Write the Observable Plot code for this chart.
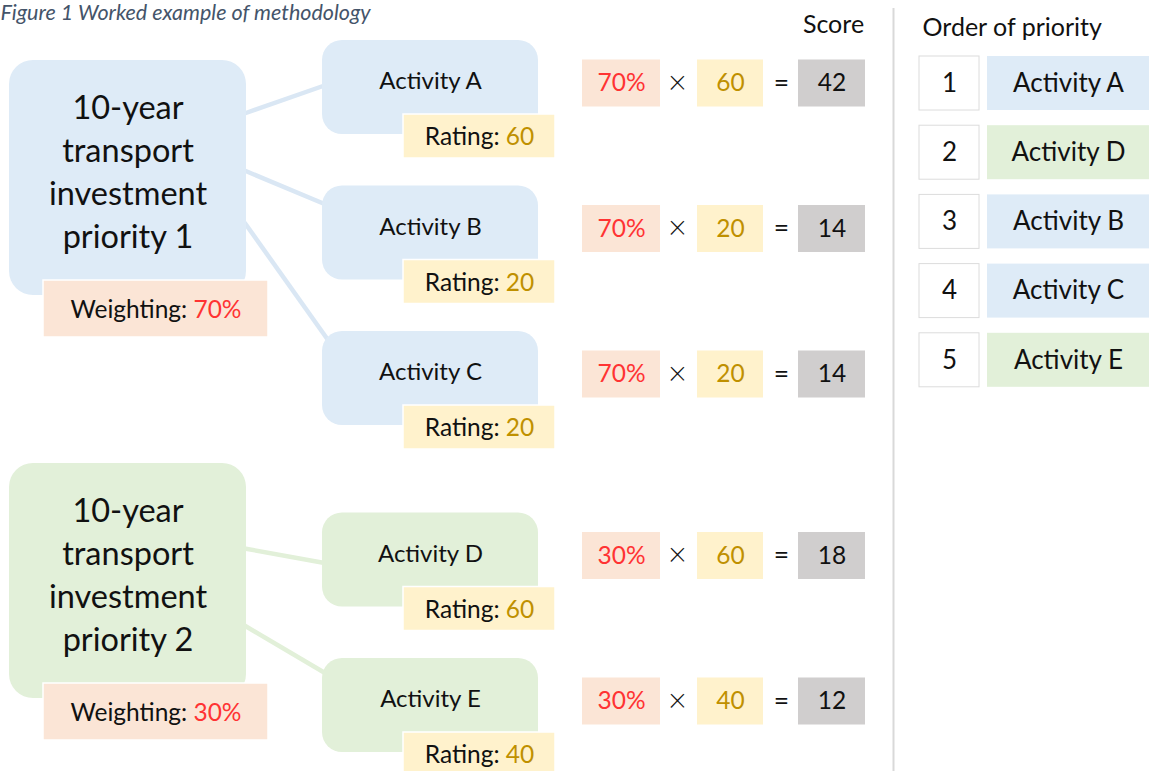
<!DOCTYPE html>
<html><head><meta charset="utf-8">
<script src="https://cdn.jsdelivr.net/npm/d3@7"></script>
<script src="https://cdn.jsdelivr.net/npm/@observablehq/plot@0.6"></script>
<style>body{margin:0;background:#fff} svg{display:block}</style>
</head><body><div id="chart"></div>
<script>
// ---------- data ----------
const title = "Figure 1 Worked example of methodology";
const priorityNames = ["10-year\ntransport\ninvestment\npriority 1", "10-year\ntransport\ninvestment\npriority 2"];
const priorityWeights = [70, 30];
const activityNames = ["Activity A", "Activity B", "Activity C", "Activity D", "Activity E"];
const activityPriority = [0, 0, 0, 1, 1];
const activityRatings = [60, 20, 20, 60, 40];
const activityScores = [42, 14, 14, 18, 12];
const scoreHeader = "Score";
const orderHeader = "Order of priority";
const weightLabel = "Weighting:";
const ratingLabel = "Rating:";

// ---------- styles ----------
const FONT = "Lato";
const C = {blue:"#DEEBF7", green:"#E2F0D9", peach:"#FBE5D6", yellow:"#FFF2CC", gray:"#D0CECE",
  red:"#FF3333", gold:"#BF9000", title:"#44546A", ink:"#111111",
  lineBlue:"#DAE7F4", lineGreen:"#E2F0D9", divider:"#D9D9D9", border:"#DCDCDC"};
const groupFill = [C.blue, C.green];
const groupLine = [C.lineBlue, C.lineGreen];
const FS = {title:21.5, big:32.5, act:24, rating:24.5, weight:24.5, formula:24.5, header:25, order:26};

// ---------- layout ----------
const W = 1149, H = 771;
const L = {
  pX1: 9, pX2: 246, pTop: [60, 463], pH: 235,
  wX1: 43, wX2: 268, wDy: 220, wH: 57,
  aX1: 322, aX2: 538, aH: 94,
  rX1: 403, rX2: 555, rDy: 74, rH: 44,
  fW: [582, 660], fR: [697, 763], fS: [798, 865], fTimes: 677, fEq: 781, fDy: 43, fH: 47,
  conStart: [53, 110, 162, 85, 162], conEnd: [45, 18, 12, 50, 16], conEndDx: [0, 0, 6, 0, 3],
  divX: 893, scoreX: 833, headerY: 24, orderX: 922,
  nX: [919, 979], oX: [987, 1149], oTop: 56, oStep: 69.2, oH: 54
};
const aTop = i => 40 + i * 145.5 + activityPriority[i] * 36;

// text measurement for mixed-colour labels
const ctx = document.createElement("canvas").getContext("2d");
const tw = (s, size) => { ctx.font = `${size}px ${FONT}`; return ctx.measureText(s).width; };

// ---------- derived tables ----------
const priorities = priorityNames.map((name, g) => ({name, g, weight: priorityWeights[g]}));
const activities = activityNames.map((name, i) => ({
  name, i, g: activityPriority[i], rating: activityRatings[i], score: activityScores[i],
  weight: priorityWeights[activityPriority[i]], top: aTop(i)
}));
const order = d3.sort(activities, (a, b) => d3.descending(a.score, b.score)).map((d, k) => ({...d, rank: k + 1}));

// mixed label pieces
function pieces(label, value, cx, y, size, color) {
  const sp = tw(" ", size);
  const total = tw(label, size) + sp + tw(value, size);
  const x0 = cx - total / 2;
  return [
    {text: label, x: x0, y, fill: C.ink, size},
    {text: value, x: x0 + tw(label, size) + sp, y, fill: color, size}
  ];
}
const mixed = [
  ...priorities.flatMap(p => pieces(weightLabel, `${p.weight}%`, (L.wX1 + L.wX2) / 2, L.pTop[p.g] + L.wDy + L.wH / 2 + 1, FS.weight, C.red)),
  ...activities.flatMap(a => pieces(ratingLabel, `${a.rating}`, (L.rX1 + L.rX2) / 2, a.top + L.rDy + L.rH / 2 + 1, FS.rating, C.gold))
];

const fy = a => a.top + L.fDy;

const plot = Plot.plot({
  width: W, height: H, margin: 0,
  x: {domain: [0, W], range: [0, W], axis: null},
  y: {domain: [0, H], range: [0, H], axis: null},
  color: {type: "identity"},
  style: {fontFamily: FONT, background: "#fff"},
  marks: [
    // divider
    Plot.ruleX([L.divX], {y1: 8, y2: H, stroke: C.divider, strokeWidth: 2}),
    // connectors
    Plot.link(activities, {
      x1: L.pX2 - 2, y1: a => L.pTop[a.g] + L.conStart[a.i],
      x2: a => L.aX1 + 2 + L.conEndDx[a.i], y2: a => a.top + L.conEnd[a.i],
      stroke: a => groupLine[a.g], strokeWidth: 4.5
    }),
    // priority boxes
    Plot.rect(priorities, {x1: L.pX1, x2: L.pX2, y1: p => L.pTop[p.g], y2: p => L.pTop[p.g] + L.pH, fill: p => groupFill[p.g], rx: 24}),
    Plot.rect(priorities, {x1: L.wX1, x2: L.wX2, y1: p => L.pTop[p.g] + L.wDy, y2: p => L.pTop[p.g] + L.wDy + L.wH, fill: C.peach, stroke: "#fff", strokeWidth: 1.5}),
    Plot.text(priorities, {x: (L.pX1 + L.pX2) / 2, y: p => L.pTop[p.g] + 109, text: "name", fontSize: FS.big, lineHeight: 1.32, fill: C.ink, lineAnchor: "middle"}),
    // activity boxes
    Plot.rect(activities, {x1: L.aX1, x2: L.aX2, y1: "top", y2: a => a.top + L.aH, fill: a => groupFill[a.g], rx: 20}),
    Plot.rect(activities, {x1: L.rX1, x2: L.rX2, y1: a => a.top + L.rDy, y2: a => a.top + L.rDy + L.rH, fill: C.yellow, stroke: "#fff", strokeWidth: 1.5}),
    Plot.text(activities, {x: (L.aX1 + L.aX2) / 2, y: a => a.top + 41, text: "name", fontSize: FS.act, fill: C.ink}),
    // mixed labels
    Plot.text(mixed, {x: "x", y: "y", text: "text", fill: "fill", fontSize: d => d.size, textAnchor: "start"}),
    // formula
    Plot.rect(activities, {x1: L.fW[0], x2: L.fW[1], y1: a => fy(a) - L.fH / 2, y2: a => fy(a) + L.fH / 2, fill: C.peach}),
    Plot.rect(activities, {x1: L.fR[0], x2: L.fR[1], y1: a => fy(a) - L.fH / 2, y2: a => fy(a) + L.fH / 2, fill: C.yellow}),
    Plot.rect(activities, {x1: L.fS[0], x2: L.fS[1], y1: a => fy(a) - L.fH / 2, y2: a => fy(a) + L.fH / 2, fill: C.gray}),
    Plot.text(activities, {x: (L.fW[0] + L.fW[1]) / 2, y: fy, text: a => `${a.weight}%`, fill: C.red, fontSize: FS.formula}),
    Plot.text(activities, {x: L.fTimes, y: fy, text: () => "×", fill: C.ink, fontSize: FS.formula + 8, fontWeight: 300}),
    Plot.text(activities, {x: (L.fR[0] + L.fR[1]) / 2, y: fy, text: a => `${a.rating}`, fill: C.gold, fontSize: FS.formula}),
    Plot.text(activities, {x: L.fEq, y: fy, text: () => "=", fill: C.ink, fontSize: FS.formula + 2}),
    Plot.text(activities, {x: (L.fS[0] + L.fS[1]) / 2, y: fy, text: a => `${a.score}`, fill: C.ink, fontSize: FS.formula}),
    // headers
    Plot.text([scoreHeader], {x: L.scoreX, y: L.headerY, text: d => d, fill: C.ink, fontSize: FS.header}),
    Plot.text([orderHeader], {x: L.orderX, y: L.headerY + 3, text: d => d, fill: C.ink, fontSize: FS.header, textAnchor: "start"}),
    // order list
    Plot.rect(order, {x1: L.nX[0], x2: L.nX[1], y1: d => L.oTop + (d.rank - 1) * L.oStep, y2: d => L.oTop + (d.rank - 1) * L.oStep + L.oH, fill: "#fff", stroke: C.border, strokeWidth: 1}),
    Plot.rect(order, {x1: L.oX[0], x2: L.oX[1], y1: d => L.oTop + (d.rank - 1) * L.oStep, y2: d => L.oTop + (d.rank - 1) * L.oStep + L.oH, fill: d => groupFill[d.g]}),
    Plot.text(order, {x: (L.nX[0] + L.nX[1]) / 2, y: d => L.oTop + (d.rank - 1) * L.oStep + L.oH / 2, text: d => `${d.rank}`, fill: C.ink, fontSize: FS.order}),
    Plot.text(order, {x: (L.oX[0] + L.oX[1]) / 2, y: d => L.oTop + (d.rank - 1) * L.oStep + L.oH / 2, text: "name", fill: C.ink, fontSize: FS.order}),
    // title
    Plot.text([title], {x: 0, y: 12.5, text: d => d, fill: C.title, fontSize: FS.title, fontStyle: "italic", textAnchor: "start"})
  ]
});
document.getElementById("chart").append(plot);
</script>
</body></html>
